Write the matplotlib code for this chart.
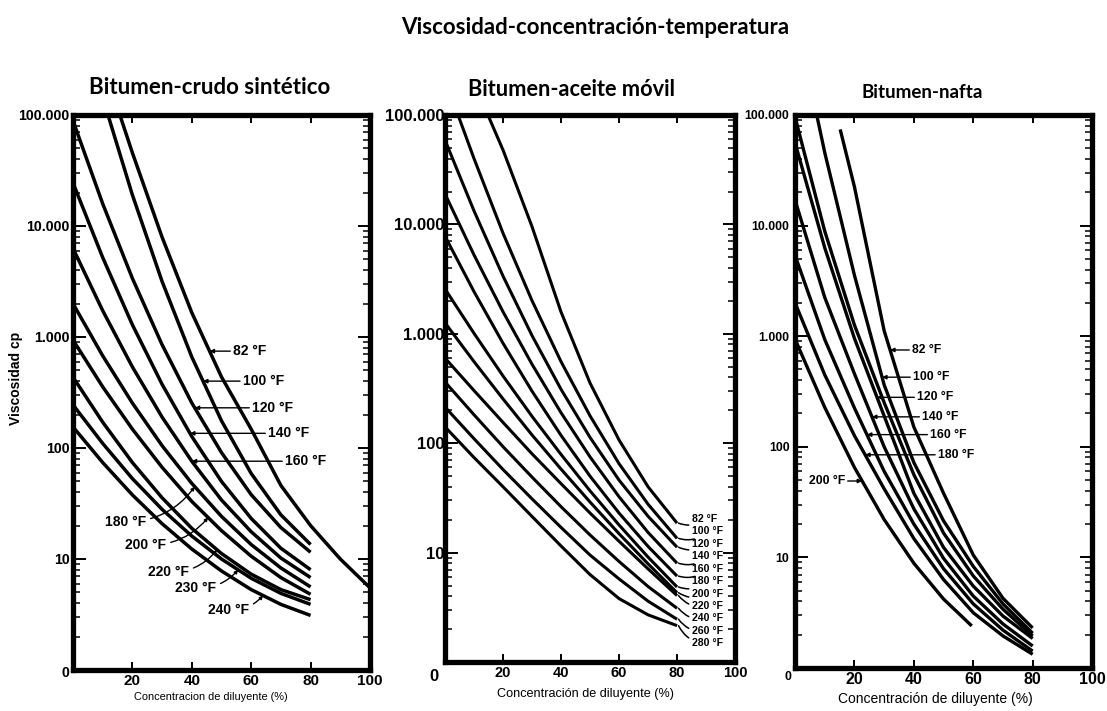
import numpy as np
import matplotlib
matplotlib.use('Agg')
import matplotlib.pyplot as plt
from matplotlib.ticker import LogLocator, NullFormatter
from matplotlib import font_manager


def has_font(name):
    try:
        font_manager.findfont(font_manager.FontProperties(family=name), fallback_to_default=False)
        return True
    except Exception:
        return False


NARROW = 'Liberation Sans Narrow' if has_font('Liberation Sans Narrow') else 'Liberation Sans'
HEAD = 'Lato' if has_font('Lato') else 'DejaVu Sans'

# ---- data (x = % diluent, y = viscosity cp) ----
# Bitumen-crudo sintetico
p1_temps = ['82 °F', '100 °F', '120 °F', '140 °F', '160 °F', '180 °F', '200 °F', '220 °F', '230 °F', '240 °F']
p1_x = [
    [15.8, 20, 30, 40, 50, 60, 70, 80, 90, 100],
    [11.8, 20, 30, 40, 50, 60, 70, 80],
    [0, 10, 20, 30, 40, 50, 60, 70, 80],
    [0, 10, 20, 30, 40, 50, 60, 70, 80],
    [0, 10, 20, 30, 40, 50, 60, 70, 80],
    [0, 10, 20, 30, 40, 50, 60, 70, 80],
    [0, 10, 20, 30, 40, 50, 60, 70, 80],
    [0, 10, 20, 30, 40, 50, 60, 70, 80],
    [0, 10, 20, 30, 40, 50, 60, 70, 80],
    [0, 10, 20, 30, 40, 50, 60, 70, 80],
]
p1_y = [
    [100000, 45700, 7940, 1660, 437, 148, 46, 20, 10, 5.5],
    [100000, 19100, 3170, 662, 176, 59, 25, 13.5],
    [89000, 15900, 3380, 853, 255, 91, 38, 19.2, 11.5],
    [24500, 5210, 1290, 375, 127, 50, 23.2, 12.5, 8],
    [6300, 1730, 538, 190, 76, 34, 17.6, 10.2, 6.8],
    [2000, 678, 254, 105, 48, 24.2, 13.5, 8.3, 5.6],
    [940, 356, 148, 67, 33, 18, 10.6, 6.8, 4.8],
    [435, 171, 74, 35.6, 18.9, 11.2, 7.3, 5.3, 4.3],
    [245, 110, 53, 28, 16.1, 10, 6.7, 4.9, 3.9],
    [155, 74, 37.8, 20.8, 12.3, 7.8, 5.3, 3.9, 3.1],
]

# Bitumen-aceite movil
p2_temps = ['82 °F', '100 °F', '120 °F', '140 °F', '160 °F', '180 °F', '200 °F', '220 °F', '240 °F', '260 °F', '280 °F']
p2_x = [
    [14.8, 20, 30, 40, 50, 60, 70, 80],
    [4.5, 10, 20, 30, 40, 50, 60, 70, 80],
] + [[0, 10, 20, 30, 40, 50, 60, 70, 80] for _ in range(9)]
p2_y = [
    [100000, 47900, 9550, 1585, 355, 107, 40, 18.6],
    [100000, 40000, 8320, 2010, 557, 178, 65, 27.7, 13.5],
    [58900, 13300, 3370, 964, 311, 113, 46, 21.5, 11.2],
    [19000, 5260, 1590, 527, 190, 75, 32.4, 15.3, 8],
    [7800, 2430, 820, 299, 118, 50, 23, 11.4, 6.1],
    [2570, 1010, 412, 176, 79, 36.7, 17.9, 9.1, 4.85],
    [1260, 557, 254, 119, 58, 29, 14.9, 7.9, 4.3],
    [600, 303, 155, 80, 42.7, 23, 12.7, 7.1, 4.05],
    [363, 182, 93, 49, 26.3, 14.5, 8.3, 4.9, 3.1],
    [214, 110, 57.5, 31, 17, 9.5, 5.75, 3.6, 2.46],
    [141, 74, 40, 21.4, 11.5, 6.3, 3.8, 2.7, 2.15],
]

# Bitumen-nafta (third curve from the top is unlabeled in the original)
p3_temps = ['82 °F', '100 °F', '', '120 °F', '140 °F', '160 °F', '180 °F', '200 °F']
p3_x = [
    [15.2, 20, 30, 40, 50, 60, 70, 80],
    [7.3, 10, 20, 30, 40, 50, 60, 70, 80],
    [0, 10, 20, 30, 40, 50, 60, 70, 80],
    [0, 10, 20, 30, 40, 50, 60, 70, 80],
    [0, 10, 20, 30, 40, 50, 60, 70, 80],
    [0, 10, 20, 30, 40, 50, 60, 70, 80],
    [0, 10, 20, 30, 40, 50, 60, 70, 80],
    [0, 10, 20, 30, 40, 50, 59.5],
]
p3_y = [
    [74000, 22400, 1120, 151, 38, 10.5, 4.27, 2.3],
    [100000, 45700, 3550, 363, 72, 21.4, 8.3, 3.8, 2.06],
    [95500, 8900, 1260, 251, 56, 16.6, 6.8, 3.4, 1.95],
    [56000, 6300, 955, 190, 38, 12.3, 5.5, 2.95, 1.85],
    [17000, 2240, 457, 100, 27.5, 9.8, 4.47, 2.5, 1.58],
    [5370, 933, 224, 60, 20, 7.9, 3.8, 2.2, 1.42],
    [2000, 447, 126, 41.7, 14.8, 6.3, 3.16, 1.95, 1.33],
    [940, 227, 65, 22, 8.85, 4.2, 2.4],
]

y_ticks = [1, 10, 100, 1000, 10000, 100000]
y_ticklabels = ['', '10', '100', '1.000', '10.000', '100.000']
x_ticks = [0, 20, 40, 60, 80, 100]
x_ticklabels = ['', '20', '40', '60', '80', '100']


def on_curve(xs, ys, x):
    # point on a drawn curve, used to hook a label leader onto it
    return 10 ** np.interp(x, xs, np.log10(ys))


def style_axes(ax, ysize, xsize, xfam, ypad):
    ax.set_yscale('log')
    ax.set_xlim(0, 100)
    ax.set_ylim(1, 100000)
    for sp in ax.spines.values():
        sp.set_linewidth(3.8)
    ax.set_yticks(y_ticks)
    ax.set_yticklabels(y_ticklabels)
    ax.yaxis.set_minor_locator(LogLocator(base=10, subs=range(2, 10)))
    ax.yaxis.set_minor_formatter(NullFormatter())
    ax.set_xticks(x_ticks)
    ax.set_xticklabels(x_ticklabels)
    ax.tick_params(axis='y', which='major', direction='in', length=9, width=1.4,
                   left=True, right=True, pad=ypad, labelsize=ysize)
    ax.tick_params(axis='y', which='minor', direction='in', length=5, width=1.1,
                   left=True, right=True)
    ax.tick_params(axis='x', which='major', direction='in', length=6, width=1.4,
                   top=True, bottom=True, pad=3, labelsize=xsize)
    for lab in ax.get_yticklabels():
        lab.set_fontweight('bold')
        lab.set_family('Liberation Sans')
    for lab in ax.get_xticklabels():
        lab.set_fontweight('bold')
        lab.set_family(xfam)


def draw_curves(ax, xs_list, ys_list, lw):
    for xs, ys in zip(xs_list, ys_list):
        ax.plot(xs, ys, color='black', lw=lw, solid_capstyle='butt', clip_on=True)


fig = plt.figure(figsize=(11.07, 7.11), dpi=100)
ax1 = fig.add_axes([0.0659, 0.0577, 0.2683, 0.7806])
ax2 = fig.add_axes([0.4020, 0.0689, 0.2620, 0.7693])
ax3 = fig.add_axes([0.7182, 0.0605, 0.2683, 0.7778])

style_axes(ax1, 10.2, 11, NARROW, 2.5)
style_axes(ax2, 12, 10.5, 'Liberation Sans', 0.5)
style_axes(ax3, 8.8, 11.5, NARROW, 4)

draw_curves(ax1, p1_x, p1_y, 2.5)
draw_curves(ax2, p2_x, p2_y, 2.2)
draw_curves(ax3, p3_x, p3_y, 2.4)

lab_kw = dict(fontweight='bold', family=NARROW, color='black')
arr_kw = dict(arrowstyle='-|>', lw=1.0, color='black', mutation_scale=6, shrinkA=0, shrinkB=0)

# panel 1: labels to the right with horizontal leaders
for i, tip_x, text_x in zip(range(5), [46, 43.8, 41, 39.4, 40], [53.9, 57.2, 60.3, 65.7, 71.4]):
    ty = on_curve(p1_x[i], p1_y[i], tip_x)
    ax1.annotate(p1_temps[i], xy=(tip_x, ty), xytext=(text_x, ty), ha='left', va='center',
                 fontsize=10, arrowprops=arr_kw, **lab_kw)
# panel 1: labels below the bundle with hooked leaders
low_tips = [41, 45.5, 48.5, 55.6, 64]
low_text = [(17.8, 21.5), (24.6, 13.4), (32.3, 7.6), (41.4, 5.5), (52.5, 3.5)]
for i, tip_x, (tx, tyv) in zip(range(5, 10), low_tips, low_text):
    ty = on_curve(p1_x[i], p1_y[i], tip_x)
    ax1.annotate(p1_temps[i], xy=(tip_x, ty), xytext=(tx, tyv), ha='center', va='center',
                 fontsize=10,
                 arrowprops=dict(arrowstyle='-|>', lw=1.0, color='black', mutation_scale=5,
                                 shrinkA=1, shrinkB=0, connectionstyle='arc3,rad=0.25'),
                 **lab_kw)

# panel 2: stacked labels at the curve ends
for i in range(len(p2_temps)):
    ax2.annotate(p2_temps[i], xy=(p2_x[i][-1] + 0.5, p2_y[i][-1]),
                 xytext=(85.0, 0.262 - 0.0228 * i), textcoords=('data', 'axes fraction'),
                 ha='left', va='center', fontsize=7.6,
                 arrowprops=dict(arrowstyle='-', lw=1.1, color='black', shrinkA=0, shrinkB=0,
                                 connectionstyle='arc3,rad=-0.3'),
                 **lab_kw)

# panel 3: labels to the right with horizontal leaders
for i, tip_x, text_x in zip([0, 1, 3, 4, 5, 6], [32, 29.3, 27.6, 25.9, 24.2, 23.6],
                            [39.4, 39.7, 41.1, 42.8, 45.5, 48.1]):
    ty = on_curve(p3_x[i], p3_y[i], tip_x)
    ax3.annotate(p3_temps[i], xy=(tip_x, ty), xytext=(text_x, ty), ha='left', va='center',
                 fontsize=8.8, arrowprops=arr_kw, **lab_kw)
ty = on_curve(p3_x[7], p3_y[7], 22.6)
ax3.annotate(p3_temps[7], xy=(22.6, ty), xytext=(16.8, ty), ha='right', va='center',
             fontsize=8.8, arrowprops=arr_kw, **lab_kw)

# "0" at the lower-left corner of each frame
for ax, ox, oy, fs in [(ax1, -0.024, -0.005, 10.2), (ax2, -0.038, -0.026, 12), (ax3, -0.024, -0.016, 8.8)]:
    ax.text(ox, oy, '0', transform=ax.transAxes, ha='center', va='center',
            fontsize=fs, fontweight='bold', family='Liberation Sans')

# axis titles
ax1.text(0.465, -0.0486, 'Concentracion de diluyente (%)', transform=ax1.transAxes,
         ha='center', va='center', fontsize=7.9, family=NARROW)
ax2.text(0.483, -0.0585, 'Concentración de diluyente (%)', transform=ax2.transAxes,
         ha='center', va='center', fontsize=9.1, family=NARROW)
ax3.text(0.471, -0.056, 'Concentración de diluyente (%)', transform=ax3.transAxes,
         ha='center', va='center', fontsize=10, family=NARROW)
fig.text(16 / 1107, 1 - 378 / 711, 'Viscosidad cp', rotation=90, ha='center', va='center',
         fontsize=10, fontweight='bold', family=NARROW)

fig.text(595 / 1107, 1 - 27 / 711, 'Viscosidad-concentración-temperatura', ha='center', va='center',
         fontsize=16, fontweight='bold', family=HEAD)
fig.text(210 / 1107, 1 - 87 / 711, 'Bitumen-crudo sintético', ha='center', va='center',
         fontsize=16, fontweight='bold', family=HEAD)
fig.text(571 / 1107, 1 - 90 / 711, 'Bitumen-aceite móvil', ha='center', va='center',
         fontsize=15.7, fontweight='bold', family=HEAD)
fig.text(922 / 1107, 1 - 93 / 711, 'Bitumen-nafta', ha='center', va='center',
         fontsize=13.5, fontweight='bold', family=HEAD)

fig.savefig('out.png', dpi=100, facecolor='white')
